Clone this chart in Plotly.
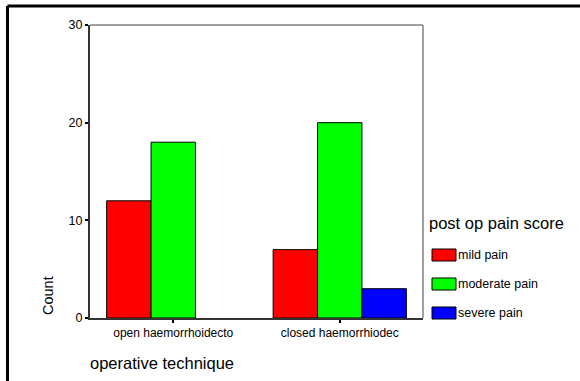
import plotly.graph_objects as go

categories = ["open haemorrhoidecto", "closed haemorrhiodec"]
series_names = ["mild pain", "moderate pain", "severe pain"]
mild = [12, 7]
moderate = [18, 20]
severe = [0, 3]
series_values = [mild, moderate, severe]
colors = ["#ff0000", "#00ff00", "#0000ff"]
y_ticks = [0, 10, 20, 30]

W, H = 580, 381
L, R, T, B = 90, 423, 25, 318


def px(x):
    return (x - L) / (R - L)


def py(y):
    return (B - y) / (B - T)


fig = go.Figure()
for name, vals, col in zip(series_names, series_values, colors):
    fig.add_trace(go.Bar(
        x=categories, y=vals, name=name,
        marker=dict(color=col,
                    line=dict(color="black", width=[0 if v == 0 else 1 for v in vals])),
        showlegend=False,
    ))

font = "Liberation Sans, Arial, sans-serif"
shapes = []
annotations = []

# outer border (top and left visible)
shapes.append(dict(type="line", xref="paper", yref="paper",
                   x0=px(7.5), x1=px(600), y0=py(6), y1=py(6),
                   line=dict(color="black", width=3)))
shapes.append(dict(type="line", xref="paper", yref="paper",
                   x0=px(7.5), x1=px(7.5), y0=py(6), y1=py(400),
                   line=dict(color="black", width=3)))
# top and right frame of plot (gray)
shapes.append(dict(type="line", xref="paper", yref="paper",
                   x0=0, x1=1, y0=1, y1=1, line=dict(color="#808080", width=1.5)))
shapes.append(dict(type="line", xref="paper", yref="paper",
                   x0=1, x1=1, y0=0, y1=1, line=dict(color="#808080", width=1.5)))

# y axis title
annotations.append(dict(text="Count", xref="paper", yref="paper",
                        x=px(48), y=py(296), showarrow=False, textangle=-90,
                        font=dict(family=font, size=14.5, color="black"),
                        xanchor="center", yanchor="middle"))
# x axis title
annotations.append(dict(text="operative technique", xref="paper", yref="paper",
                        x=px(88), y=py(363), showarrow=False,
                        font=dict(family=font, size=16.5, color="black"),
                        xanchor="left", yanchor="middle"))

# manual legend
annotations.append(dict(text="post op pain score", xref="paper", yref="paper",
                        x=px(427), y=py(223), showarrow=False,
                        font=dict(family=font, size=16.5, color="black"),
                        xanchor="left", yanchor="middle"))
leg_y = [255, 284, 313]
for name, col, yc in zip(series_names, colors, leg_y):
    shapes.append(dict(type="rect", xref="paper", yref="paper",
                       x0=px(432), x1=px(456), y0=py(yc - 6), y1=py(yc + 6),
                       fillcolor=col, line=dict(color="black", width=1)))
    annotations.append(dict(text=name, xref="paper", yref="paper",
                            x=px(456), y=py(yc), showarrow=False,
                            font=dict(family=font, size=12.5, color="black"),
                            xanchor="left", yanchor="middle"))

fig.update_layout(
    width=W, height=H,
    margin=dict(l=L, r=W - R, t=T, b=H - B, pad=0),
    paper_bgcolor="white", plot_bgcolor="white",
    barmode="group", bargap=0.2, bargroupgap=0,
    font=dict(family=font, size=11, color="black"),
    xaxis=dict(showgrid=False, zeroline=False, showline=True,
               linecolor="#333333", linewidth=2,
               ticks="outside", ticklen=3, tickwidth=2, tickcolor="black",
               tickfont=dict(family=font, size=12, color="black")),
    yaxis=dict(range=[0, 30], tickvals=y_ticks, showgrid=False, zeroline=False,
               showline=True, linecolor="#333333", linewidth=2,
               ticks="outside", ticklen=3, tickwidth=2, tickcolor="black",
               tickfont=dict(family=font, size=12.5, color="black")),
    shapes=shapes, annotations=annotations,
)

fig.write_html("out.html", config={"displayModeBar": False},
               post_script="document.body.style.margin='0';document.body.style.overflow='hidden';")
